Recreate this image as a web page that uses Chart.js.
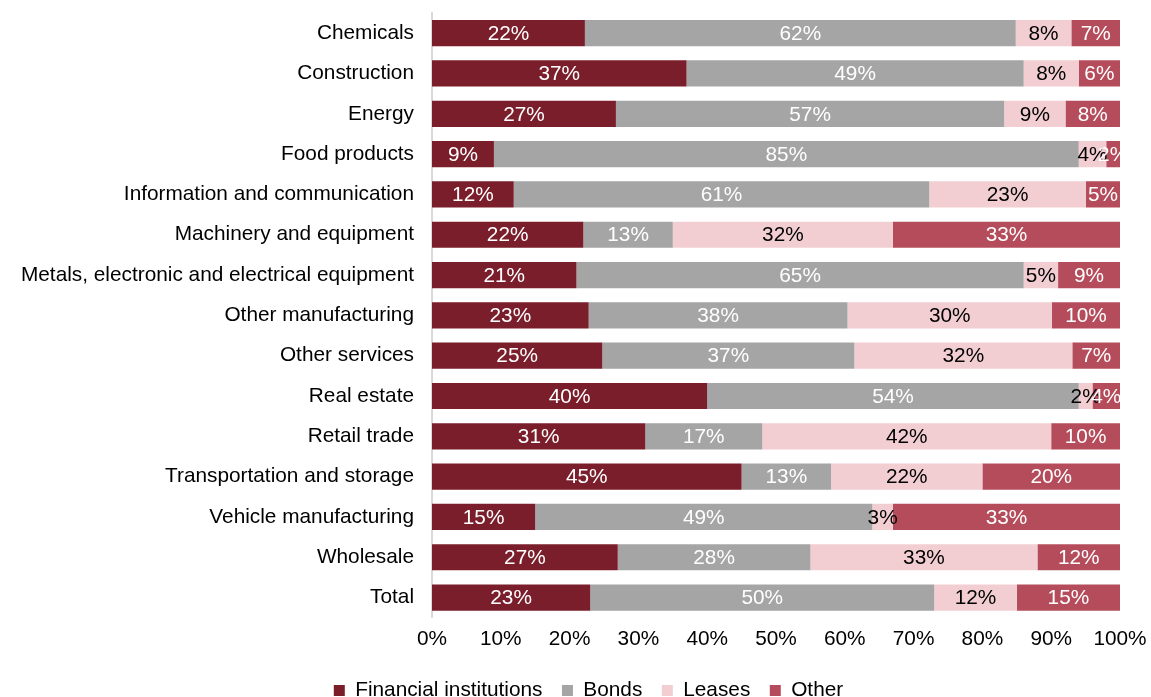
<!DOCTYPE html>
<html>
<head>
<meta charset="utf-8">
<script src="https://cdn.jsdelivr.net/npm/chart.js@4/dist/chart.umd.min.js"></script>
<style>
  html, body { margin: 0; padding: 0; background: #fff; }
  #wrap { width: 1151px; height: 697px; position: relative; }
</style>
</head>
<body>
<div id="wrap"><canvas id="chart"></canvas></div>
<script>
const sectors = [
  "Chemicals", "Construction", "Energy", "Food products",
  "Information and communication", "Machinery and equipment",
  "Metals, electronic and electrical equipment", "Other manufacturing",
  "Other services", "Real estate", "Retail trade",
  "Transportation and storage", "Vehicle manufacturing", "Wholesale", "Total"
];

// shares in %, as labelled
const financial = [22, 37, 27, 9, 12, 22, 21, 23, 25, 40, 31, 45, 15, 27, 23];
const bonds     = [62, 49, 57, 85, 61, 13, 65, 38, 37, 54, 17, 13, 49, 28, 50];
const leases    = [8, 8, 9, 4, 23, 32, 5, 30, 32, 2, 42, 22, 3, 33, 12];
const other     = [7, 6, 8, 2, 5, 33, 9, 10, 7, 4, 10, 20, 33, 12, 15];

const series = [
  { label: "Financial institutions", values: financial, color: "#7B1E2B", text: "#ffffff" },
  { label: "Bonds", values: bonds, color: "#A5A5A5", text: "#ffffff" },
  { label: "Leases", values: leases, color: "#F2CED3", text: "#000000" },
  { label: "Other", values: other, color: "#B54C5B", text: "#ffffff" },
];

// 100% stacked: each row scaled by its own total
const rowSums = sectors.map((_, i) => series.reduce((s, d) => s + d.values[i], 0));

const FONT = "'Liberation Sans', Arial, sans-serif";
const SIZE = 20.8;

const segmentLabels = {
  id: "segmentLabels",
  afterDatasetsDraw(chart) {
    const ctx = chart.ctx;
    ctx.save();
    ctx.font = SIZE + "px " + FONT;
    ctx.textAlign = "center";
    ctx.textBaseline = "middle";
    chart.data.datasets.forEach((ds, di) => {
      const meta = chart.getDatasetMeta(di);
      meta.data.forEach((bar, i) => {
        const cx = (bar.x + bar.base) / 2;
        ctx.fillStyle = series[di].text;
        ctx.fillText(ds.raw[i] + "%", cx, bar.y + 1);
      });
    });
    ctx.restore();
  }
};

// legend sits a bit right of the page centre
const legendShift = {
  id: "legendShift",
  afterLayout(chart) {
    chart.legend.left += 57;
  }
};

new Chart(document.getElementById("chart"), {
  type: "bar",
  data: {
    labels: sectors,
    datasets: series.map((s) => ({
      label: s.label,
      raw: s.values,
      data: s.values.map((v, i) => (v / rowSums[i]) * 100),
      backgroundColor: s.color,
      borderWidth: 0,
      categoryPercentage: 1,
      barPercentage: 0.65,
    })),
  },
  options: {
    indexAxis: "y",
    responsive: true,
    maintainAspectRatio: false,
    animation: false,
    layout: { padding: { top: 13, right: 31, bottom: -14, left: 0 } },
    scales: {
      x: {
        stacked: true,
        min: 0,
        max: 100,
        grid: { display: false, drawTicks: false },
        border: { display: false },
        ticks: {
          stepSize: 10,
          padding: 9,
          color: "#000",
          font: { family: FONT, size: SIZE },
          callback: (v) => v + "%",
        },
        afterFit(scale) {
          scale.paddingLeft = 0;
          scale.paddingRight = 0;
        },
      },
      y: {
        stacked: true,
        grid: { display: false, drawTicks: false },
        border: { display: true, color: "#D9D9D9", width: 2 },
        ticks: {
          padding: 18,
          color: "#000",
          font: { family: FONT, size: SIZE },
        },
        afterFit(scale) {
          scale.width = 432;
          scale.paddingTop = 0;
          scale.paddingBottom = 0;
        },
      },
    },
    plugins: {
      legend: {
        position: "bottom",
        labels: {
          boxWidth: 11,
          boxHeight: 11,
          padding: 19.5,
          color: "#000",
          font: { family: FONT, size: SIZE },
        },
      },
      tooltip: { enabled: false },
    },
  },
  plugins: [segmentLabels, legendShift],
});
</script>
</body>
</html>
